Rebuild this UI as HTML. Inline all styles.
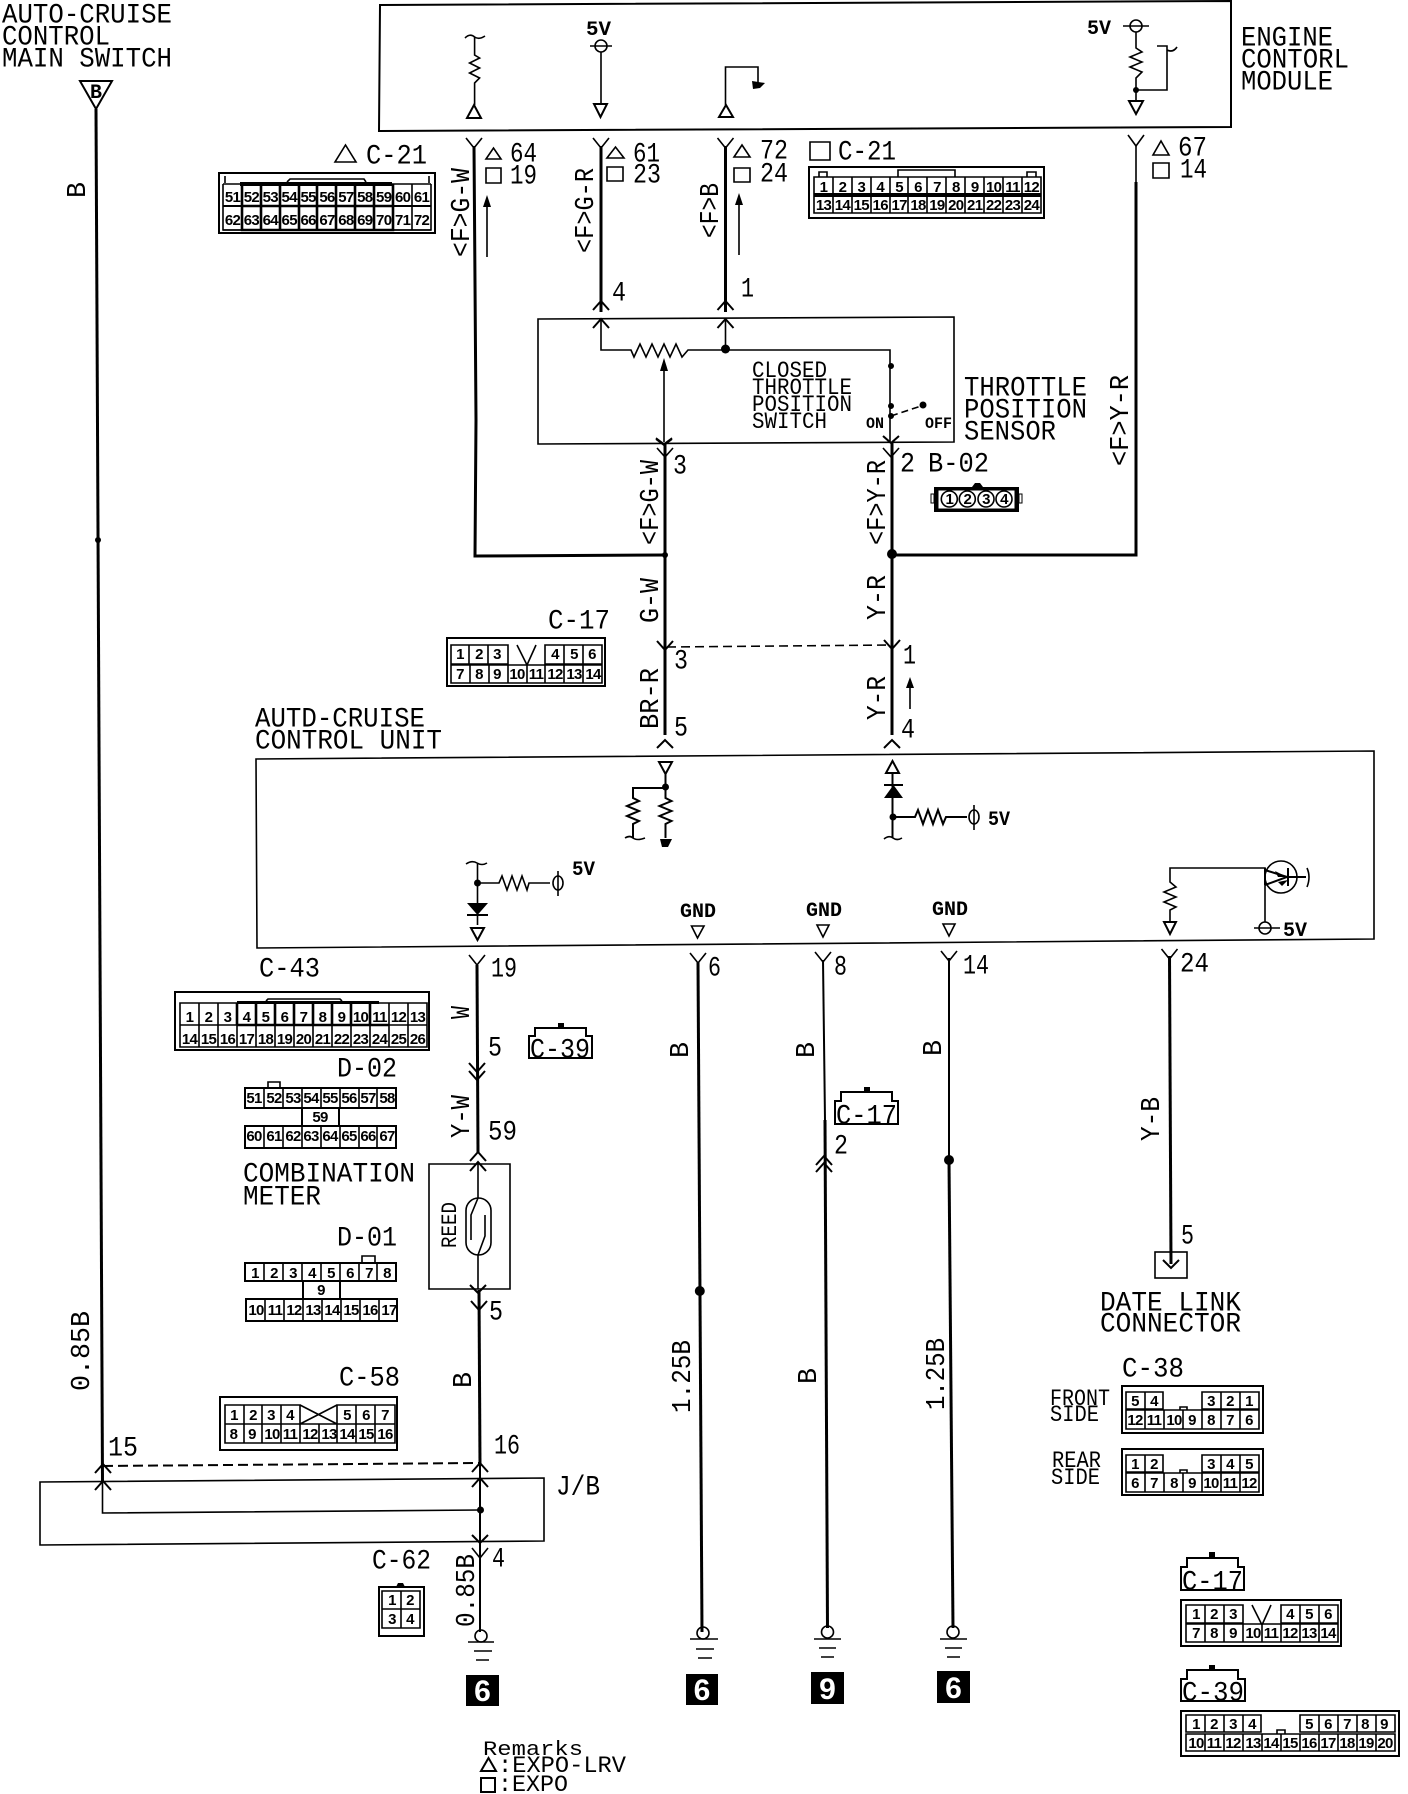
<!DOCTYPE html>
<html><head><meta charset="utf-8"><title>Auto-cruise wiring diagram</title>
<style>
html,body{margin:0;padding:0;background:#fff}
svg{display:block}
.t{font-family:"Liberation Mono",monospace;font-size:28px;fill:#000;transform:translateY(-1.5px)}
.s{font-family:"Liberation Mono",monospace;font-size:20px;fill:#000;font-weight:bold}
.r{font-family:"Liberation Mono",monospace;font-size:27px;fill:#000}
.n text{font-family:"Liberation Sans",sans-serif;font-size:15px;font-weight:bold;fill:#000;text-anchor:middle;letter-spacing:-.7px}
.b{font-family:"Liberation Sans",sans-serif;font-size:30px;font-weight:bold;fill:#fff;text-anchor:middle}
.l{fill:none;stroke:#000;stroke-width:1.6}
.m{fill:none;stroke:#000;stroke-width:2}
.w{fill:none;stroke:#000;stroke-width:3}
.h{fill:none;stroke:#000;stroke-width:2.6}
.tr{fill:#fff;stroke:#000;stroke-width:2}
</style></head><body>
<svg width="1408" height="1794" viewBox="0 0 1408 1794" xmlns="http://www.w3.org/2000/svg">
<rect width="1408" height="1794" fill="#fff"/>

<!-- boxes -->
<path class="m" d="M380 5L1231 1V127L379 131Z"/>
<path class="l" d="M538 319L954 317V442L538 444Z"/>
<path class="l" d="M256 759L1374 751V939L257 948Z"/>
<path class="l" d="M429 1164H510V1289H429Z"/>
<path class="l" d="M40 1482L544 1478V1541L40 1545Z"/>

<!-- main wires -->
<path class="w" d="M96 109L102.500 1482"/>
<path class="l" d="M102.500 1482V1513L480 1510"/>
<path class="w" d="M474 146L476 420L475 556L665 555"/>
<path class="w" d="M601 146V312"/>
<path class="w" d="M725.500 146V312"/>
<path class="w" d="M1136 182V555H892"/>
<path class="l" d="M1136 146V182"/>
<path class="w" d="M665 444V735"/>
<path class="w" d="M892 442V735"/>
<path class="w" d="M477 965L478 1153"/>
<path class="w" d="M479 1290L480 1466"/>
<path class="m" d="M480 1466V1632"/>
<path class="w" d="M698 962L702 1632"/>
<path class="m" d="M823 960L825 1120"/>
<path class="w" d="M825 1120L827.500 1628"/>
<path class="m" d="M949 958V1160"/>
<path class="w" d="M949 1160L953 1628"/>
<path class="w" d="M1169.500 956L1171 1264"/>
<path class="l" stroke-dasharray="9 5" d="M667 647L892 645"/>
<path class="m" stroke-dasharray="10 5" d="M103 1466L480 1463"/>

<!-- Y and chevrons -->
<path class="l" d="M466 138L474 148L482 138M593 138L601 148L609 138M717.500 138L725.500 148L733.500 138M1128 135L1136 146L1144 135M883 448L891 457L899 448M657 448L665 457L673 448M469 955L477 965L485 955M690 953L698 963L706 953M815 952L823 962L831 952M941 951L949 961L957 951M1161.500 949L1169.500 959L1177.500 949M472 1548L480 1558L488 1548"/>
<path class="m" d="M593 310L601 301L609 310M593 328L601 319L609 328M717.500 310L725.500 301L733.500 310M717.500 328L725.500 319L733.500 328M656 439L664 445L672 439M883 436L891 443L899 436M657 641L665 650L673 641M884 640L892 649L900 640M657 748L665 740L673 748M884 748L892 740L900 748M469 1063L477 1072L485 1063M469 1071L477 1080L485 1071M470 1161L478 1152L486 1161M470 1171L478 1162L486 1171M470 1285L478 1293L486 1285M471 1301L479 1310L487 1301M95 1473L103 1464L111 1473M95 1490L103 1481L111 1490M472 1472L480 1463L488 1472M472 1487L480 1478L488 1487M472 1535L480 1543L488 1535M816 1165L824 1156L832 1165M816 1172L824 1163L832 1172M1163 1260L1171 1268L1179 1260"/>

<!-- top triangle -->
<path class="m" d="M80 81H112L96 109Z"/>
<text class="s" x="90" y="98" textLength="12" lengthAdjust="spacingAndGlyphs">B</text>

<!-- ECM internals -->
<path class="l" d="M465 38Q470 33 474.600 37Q479 40 485 36M474.600 37V55l5 3-10 5 10 5-10 5 10 5-5 5V105"/>
<path class="tr" d="M467 118H481L474 105Z"/>
<circle class="l" cx="601" cy="46" r="6"/><path class="l" d="M590 46H612M601 52V104"/>
<path class="tr" d="M594 104H607L600.500 117Z"/>
<text class="s" x="586" y="35" textLength="25" lengthAdjust="spacingAndGlyphs">5V</text>
<path class="l" d="M725.500 105V67H758V84"/>
<path fill="#000" d="M752 81L765 83L760 88L753 89Z"/>
<path class="tr" d="M719 117H733L726 105Z"/>
<circle class="l" cx="1136" cy="26" r="6"/><path class="l" d="M1123 26H1149M1136 32V48l6 4-12 5 12 5-12 5 12 5-6 6V101M1136 90H1167V46H1157M1167 50Q1173 53 1177 47"/>
<circle cx="1136" cy="90" r="3"/>
<path class="tr" d="M1129 101H1143L1136 114Z"/>
<text class="s" x="1087" y="34" textLength="24" lengthAdjust="spacingAndGlyphs">5V</text>

<!-- Titles -->
<text class="t" x="2" y="24" textLength="170" lengthAdjust="spacingAndGlyphs">AUTO-CRUISE</text>
<text class="t" x="2" y="46" textLength="108" lengthAdjust="spacingAndGlyphs">CONTROL</text>
<text class="t" x="2" y="68" textLength="170" lengthAdjust="spacingAndGlyphs">MAIN SWITCH</text>
<text class="t" x="1241" y="47" textLength="92" lengthAdjust="spacingAndGlyphs">ENGINE</text>
<text class="t" x="1241" y="69" textLength="108" lengthAdjust="spacingAndGlyphs">CONTORL</text>
<text class="t" x="1241" y="91" textLength="92" lengthAdjust="spacingAndGlyphs">MODULE</text>
<text class="t" x="964" y="397" textLength="123" lengthAdjust="spacingAndGlyphs">THROTTLE</text>
<text class="t" x="964" y="419" textLength="123" lengthAdjust="spacingAndGlyphs">POSITION</text>
<text class="t" x="964" y="441" textLength="92" lengthAdjust="spacingAndGlyphs">SENSOR</text>
<text class="s" style="font-size:23px;font-weight:normal" x="752" y="377" textLength="75" lengthAdjust="spacingAndGlyphs">CLOSED</text>
<text class="s" style="font-size:23px;font-weight:normal" x="752" y="394" textLength="100" lengthAdjust="spacingAndGlyphs">THROTTLE</text>
<text class="s" style="font-size:23px;font-weight:normal" x="752" y="411" textLength="100" lengthAdjust="spacingAndGlyphs">POSITION</text>
<text class="s" style="font-size:23px;font-weight:normal" x="752" y="428" textLength="75" lengthAdjust="spacingAndGlyphs">SWITCH</text>
<text class="s" style="font-size:16px" x="866" y="428" textLength="18" lengthAdjust="spacingAndGlyphs">ON</text>
<text class="s" style="font-size:16px" x="925" y="428" textLength="27" lengthAdjust="spacingAndGlyphs">OFF</text>
<text class="t" x="255" y="728" textLength="170" lengthAdjust="spacingAndGlyphs">AUTD-CRUISE</text>
<text class="t" x="255" y="750" textLength="187" lengthAdjust="spacingAndGlyphs">CONTROL UNIT</text>
<text class="t" x="243" y="1183" textLength="172" lengthAdjust="spacingAndGlyphs">COMBINATION</text>
<text class="t" x="243" y="1206" textLength="78" lengthAdjust="spacingAndGlyphs">METER</text>
<text class="t" x="1100" y="1312" textLength="141" lengthAdjust="spacingAndGlyphs">DATE LINK</text>
<text class="t" x="1100" y="1333" textLength="141" lengthAdjust="spacingAndGlyphs">CONNECTOR</text>
<text class="s" style="font-size:23px;font-weight:normal" x="1050" y="1405" textLength="60" lengthAdjust="spacingAndGlyphs">FRONT</text>
<text class="s" style="font-size:23px;font-weight:normal" x="1050" y="1421" textLength="49" lengthAdjust="spacingAndGlyphs">SIDE</text>
<text class="s" style="font-size:23px;font-weight:normal" x="1052" y="1467" textLength="49" lengthAdjust="spacingAndGlyphs">REAR</text>
<text class="s" style="font-size:23px;font-weight:normal" x="1051" y="1484" textLength="49" lengthAdjust="spacingAndGlyphs">SIDE</text>

<!-- rotated labels -->
<text class="r" transform="translate(85,198) rotate(-90)" textLength="16" lengthAdjust="spacingAndGlyphs">B</text>
<text class="r" transform="translate(89,1391) rotate(-90)" textLength="80" lengthAdjust="spacingAndGlyphs">0.85B</text>
<text class="r" transform="translate(469,257) rotate(-90)" textLength="89" lengthAdjust="spacingAndGlyphs">&lt;F&gt;G-W</text>
<text class="r" transform="translate(593,253) rotate(-90)" textLength="85" lengthAdjust="spacingAndGlyphs">&lt;F&gt;G-R</text>
<text class="r" transform="translate(718,238) rotate(-90)" textLength="55" lengthAdjust="spacingAndGlyphs">&lt;F&gt;B</text>
<text class="r" transform="translate(1128,466) rotate(-90)" textLength="91" lengthAdjust="spacingAndGlyphs">&lt;F&gt;Y-R</text>
<text class="r" transform="translate(658,545) rotate(-90)" textLength="85" lengthAdjust="spacingAndGlyphs">&lt;F&gt;G-W</text>
<text class="r" transform="translate(658,623) rotate(-90)" textLength="45" lengthAdjust="spacingAndGlyphs">G-W</text>
<text class="r" transform="translate(658,729) rotate(-90)" textLength="61" lengthAdjust="spacingAndGlyphs">BR-R</text>
<text class="r" transform="translate(885,545) rotate(-90)" textLength="85" lengthAdjust="spacingAndGlyphs">&lt;F&gt;Y-R</text>
<text class="r" transform="translate(885,620) rotate(-90)" textLength="45" lengthAdjust="spacingAndGlyphs">Y-R</text>
<text class="r" transform="translate(885,720) rotate(-90)" textLength="44" lengthAdjust="spacingAndGlyphs">Y-R</text>
<text class="r" transform="translate(469,1019) rotate(-90)" textLength="13" lengthAdjust="spacingAndGlyphs">W</text>
<text class="r" transform="translate(469,1138) rotate(-90)" textLength="43" lengthAdjust="spacingAndGlyphs">Y-W</text>
<text class="s" style="font-size:22px;font-weight:normal" transform="translate(456,1248) rotate(-90)" textLength="46" lengthAdjust="spacingAndGlyphs">REED</text>
<text class="r" transform="translate(471,1388) rotate(-90)" textLength="16" lengthAdjust="spacingAndGlyphs">B</text>
<text class="r" transform="translate(688,1058) rotate(-90)" textLength="16" lengthAdjust="spacingAndGlyphs">B</text>
<text class="r" transform="translate(690,1413) rotate(-90)" textLength="73" lengthAdjust="spacingAndGlyphs">1.25B</text>
<text class="r" transform="translate(814,1058) rotate(-90)" textLength="16" lengthAdjust="spacingAndGlyphs">B</text>
<text class="r" transform="translate(816,1384) rotate(-90)" textLength="16" lengthAdjust="spacingAndGlyphs">B</text>
<text class="r" transform="translate(941,1056) rotate(-90)" textLength="16" lengthAdjust="spacingAndGlyphs">B</text>
<text class="r" transform="translate(944,1410) rotate(-90)" textLength="72" lengthAdjust="spacingAndGlyphs">1.25B</text>
<text class="r" transform="translate(1159,1141) rotate(-90)" textLength="44" lengthAdjust="spacingAndGlyphs">Y-B</text>
<text class="r" transform="translate(474,1627) rotate(-90)" textLength="73" lengthAdjust="spacingAndGlyphs">0.85B</text>

<!-- pin numbers -->
<path class="l" d="M486 159H501L493.500 148ZM607 158H624L615.500 147ZM734 157H750L742 145ZM1153 155H1169L1161 141ZM335 162H356L345.500 145ZM486 168H501V183H486ZM607 167H623V181H607ZM734 168H750V182H734ZM810 142H830V160H810ZM1153 163H1169V178H1153Z"/>
<text class="t" x="510" y="163" textLength="27" lengthAdjust="spacingAndGlyphs">64</text>
<text class="t" x="510" y="185" textLength="27" lengthAdjust="spacingAndGlyphs">19</text>
<text class="t" x="633" y="163" textLength="27" lengthAdjust="spacingAndGlyphs">61</text>
<text class="t" x="633" y="184" textLength="28" lengthAdjust="spacingAndGlyphs">23</text>
<text class="t" x="760" y="160" textLength="28" lengthAdjust="spacingAndGlyphs">72</text>
<text class="t" x="760" y="183" textLength="28" lengthAdjust="spacingAndGlyphs">24</text>
<text class="t" x="1178" y="157" textLength="29" lengthAdjust="spacingAndGlyphs">67</text>
<text class="t" x="1180" y="179" textLength="27" lengthAdjust="spacingAndGlyphs">14</text>
<text class="t" x="366" y="165" textLength="61" lengthAdjust="spacingAndGlyphs">C-21</text>
<text class="t" x="838" y="161" textLength="58" lengthAdjust="spacingAndGlyphs">C-21</text>
<text class="t" x="612" y="302" textLength="14" lengthAdjust="spacingAndGlyphs">4</text>
<text class="t" x="741" y="298" textLength="13" lengthAdjust="spacingAndGlyphs">1</text>
<text class="t" x="673" y="475" textLength="14" lengthAdjust="spacingAndGlyphs">3</text>
<text class="t" x="900" y="473" textLength="15" lengthAdjust="spacingAndGlyphs">2</text>
<text class="t" x="928" y="473" textLength="61" lengthAdjust="spacingAndGlyphs">B-02</text>
<text class="t" x="548" y="630" textLength="62" lengthAdjust="spacingAndGlyphs">C-17</text>
<text class="t" x="674" y="670" textLength="14" lengthAdjust="spacingAndGlyphs">3</text>
<text class="t" x="903" y="665" textLength="13" lengthAdjust="spacingAndGlyphs">1</text>
<text class="t" x="674" y="737" textLength="14" lengthAdjust="spacingAndGlyphs">5</text>
<text class="t" x="901" y="739" textLength="14" lengthAdjust="spacingAndGlyphs">4</text>
<text class="t" x="491" y="978" textLength="26" lengthAdjust="spacingAndGlyphs">19</text>
<text class="t" x="488" y="1057" textLength="14" lengthAdjust="spacingAndGlyphs">5</text>
<text class="t" x="488" y="1141" textLength="29" lengthAdjust="spacingAndGlyphs">59</text>
<text class="t" x="489" y="1321" textLength="14" lengthAdjust="spacingAndGlyphs">5</text>
<text class="t" x="708" y="977" textLength="13" lengthAdjust="spacingAndGlyphs">6</text>
<text class="t" x="834" y="976" textLength="13" lengthAdjust="spacingAndGlyphs">8</text>
<text class="t" x="963" y="975" textLength="26" lengthAdjust="spacingAndGlyphs">14</text>
<text class="t" x="1180" y="973" textLength="29" lengthAdjust="spacingAndGlyphs">24</text>
<text class="t" x="834" y="1155" textLength="14" lengthAdjust="spacingAndGlyphs">2</text>
<text class="t" x="1181" y="1245" textLength="13" lengthAdjust="spacingAndGlyphs">5</text>
<text class="t" x="108" y="1457" textLength="30" lengthAdjust="spacingAndGlyphs">15</text>
<text class="t" x="494" y="1455" textLength="26" lengthAdjust="spacingAndGlyphs">16</text>
<text class="t" x="556" y="1496" textLength="44" lengthAdjust="spacingAndGlyphs">J/B</text>
<text class="t" x="492" y="1568" textLength="13" lengthAdjust="spacingAndGlyphs">4</text>
<text class="t" x="372" y="1570" textLength="59" lengthAdjust="spacingAndGlyphs">C-62</text>
<text class="t" x="259" y="978" textLength="61" lengthAdjust="spacingAndGlyphs">C-43</text>
<text class="t" x="337" y="1078" textLength="60" lengthAdjust="spacingAndGlyphs">D-02</text>
<text class="t" x="337" y="1247" textLength="60" lengthAdjust="spacingAndGlyphs">D-01</text>
<text class="t" x="339" y="1387" textLength="61" lengthAdjust="spacingAndGlyphs">C-58</text>
<text class="t" x="1122" y="1378" textLength="62" lengthAdjust="spacingAndGlyphs">C-38</text>

<!-- small arrows -->
<path class="l" d="M487 257V205M739 255V205M910 709V686"/>
<path fill="#000" d="M487 195L491 207H483ZM739 193L743 205H735ZM910 677L914 688H906Z"/>

<!-- Throttle sensor internals -->
<path class="l" d="M601 319V350H631l3 7 6-13 6 13 6-13 6 13 6-13 6 13 6-13 6 13 6-7H725.500H890V442M725.500 319V349"/>
<circle cx="725.500" cy="349" r="4.500"/>
<path class="l" d="M664 368V442"/><path fill="#000" d="M664 358L668 371H660Z"/>
<path class="l" d="M656 438L664 444L672 438"/>
<circle cx="891" cy="366" r="3"/><circle cx="891" cy="406" r="3"/><circle cx="891" cy="416" r="3"/><circle cx="923" cy="405" r="3.500"/>
<path class="l" stroke-dasharray="7 4" d="M891 416L921 406"/>

<!-- ACCU internals -->
<path class="tr" d="M659 762H672L665.500 774Z"/>
<path class="m" d="M665.500 774V798l6 3-12 5 12 5-12 5 12 5-6 3V838"/>
<circle cx="665.500" cy="787" r="3.500"/>
<path class="m" d="M665 788H633V798l6 3-12 5 12 5-12 5 12 5-6 3V838"/>
<path class="l" d="M625 838Q630 835 633 838Q637 841 645 838"/>
<path fill="#000" d="M660 839H672L668 847H662Z"/>
<path class="tr" d="M886 773H899L892.500 761Z"/>
<path class="m" d="M892.500 773V838M893 817H915l3-7 5 14 5-14 5 14 5-14 5 14 3-7H967"/>
<path fill="#000" d="M884 798H903L893.500 785Z"/><path class="m" d="M884 785H903"/>
<circle cx="893" cy="817" r="3.500"/>
<ellipse class="l" cx="974" cy="817" rx="5" ry="7"/><path class="l" d="M974 805V830"/>
<text class="s" x="988" y="825" textLength="22" lengthAdjust="spacingAndGlyphs">5V</text>
<path class="l" d="M884 839Q889 835 893 838Q897 841 902 838"/>
<path class="l" d="M466 864Q472 860 477 863Q482 866 487 863M477.500 863V925M477 883H499l3-7 5 14 5-14 5 14 5-14 5 14 2-7H550"/>
<circle cx="477.500" cy="883" r="3.500"/>
<ellipse class="l" cx="558" cy="883" rx="5" ry="7"/><path class="l" d="M558 871V896"/>
<text class="s" x="572" y="875" textLength="23" lengthAdjust="spacingAndGlyphs">5V</text>
<path fill="#000" d="M467 903H488L477.500 915Z"/><path class="m" d="M467 915H488"/>
<path class="tr" d="M471 928H484L477.500 940Z"/>
<text class="s" x="680" y="917" textLength="36" lengthAdjust="spacingAndGlyphs">GND</text>
<text class="s" x="806" y="916" textLength="36" lengthAdjust="spacingAndGlyphs">GND</text>
<text class="s" x="932" y="915" textLength="36" lengthAdjust="spacingAndGlyphs">GND</text>
<path class="l" d="M691.500 926H704L697.500 938ZM817 925H829L823 937ZM943 924H955L949 936Z"/>
<path class="l" d="M1170 922V910l6-3-12-5 12-5-12-5 12-5-6-5V868H1265V885M1265 885V922"/>
<path class="tr" d="M1164 922H1176L1170 934Z"/>
<circle class="l" cx="1281" cy="877" r="16"/>
<path class="m" d="M1265 868V885M1265 870L1287 877L1265 885M1288 868V886M1288 877H1306"/>
<path fill="#000" d="M1275 871L1287 877L1278 877ZM1278 882L1288 880L1282 886Z"/>
<path class="l" d="M1307 868Q1311 877 1307 887"/>
<circle class="l" cx="1265" cy="928" r="6"/><path class="l" d="M1254 928H1280"/>
<text class="s" x="1283" y="936" textLength="24" lengthAdjust="spacingAndGlyphs">5V</text>

<!-- dots -->
<circle cx="98" cy="540" r="3"/><circle cx="665" cy="555" r="3"/><circle cx="892" cy="554" r="5"/>
<circle cx="699.800" cy="1291" r="5"/><circle cx="949" cy="1160" r="5"/><circle cx="480.500" cy="1510" r="3.500"/>

<!-- reed -->
<rect class="l" x="466" y="1198" width="25" height="57" rx="12.500"/>
<path class="l" d="M478 1164V1198L471 1215V1240M478 1255V1289M485 1215V1236L478 1255"/>

<!-- data link -->
<rect class="l" x="1155" y="1252" width="32" height="26"/>

<!-- grounds -->
<path class="l" d="M468 1642H494M474 1651H492M476 1660H489M690 1639H718M696 1649H714M698 1658H712M814 1639H841M819 1648H836M821 1657H834M940 1639H967M945 1648H962M947 1657H960"/>
<ellipse class="l" cx="481" cy="1636" rx="6" ry="6"/><ellipse class="l" cx="703" cy="1633" rx="6" ry="6"/><ellipse class="l" cx="827.500" cy="1632" rx="6" ry="6"/><ellipse class="l" cx="953" cy="1632" rx="6" ry="6"/>
<rect x="466" y="1675" width="33" height="31"/><text class="b" x="482.500" y="1701">6</text>
<rect x="686" y="1674" width="32" height="31"/><text class="b" x="702" y="1700">6</text>
<rect x="811" y="1672" width="33" height="32"/><text class="b" x="827.500" y="1699">9</text>
<rect x="937" y="1671" width="33" height="32"/><text class="b" x="953.500" y="1698">6</text>

<!-- Remarks -->
<text class="s" style="font-size:20px;font-weight:normal" x="483" y="1755" textLength="100" lengthAdjust="spacingAndGlyphs">Remarks</text>
<path class="m" d="M481 1771H496L488.500 1758Z"/><rect class="m" x="481" y="1778" width="14" height="14"/>
<text class="s" style="font-size:23px;font-weight:normal" x="498" y="1772" textLength="128" lengthAdjust="spacingAndGlyphs">:EXPO-LRV</text>
<text class="s" style="font-size:23px;font-weight:normal" x="498" y="1791" textLength="70" lengthAdjust="spacingAndGlyphs">:EXPO</text>

<!-- connector C-21 left -->
<rect class="m" x="219" y="173" width="216" height="60"/>
<path class="l" d="M223 184V230H431V184M225 176V183M429 176V183M287 182L290 179H364L366 182"/>
<rect x="240" y="182" width="152" height="4"/>
<path class="m" d="M223 206H431"/>
<path class="l" d="M223 184H431M223 230H431M242 184V230M261 184V230M280 184V230M299 184V230M317 184V230M336 184V230M355 184V230M374 184V230M393 184V230M412 184V230"/>
<path class="h" d="M242 184V230H393V184M261 184V230M280 184V230M299 184V230M317 184V230M336 184V230M355 184V230M374 184V230M242 206H393"/>
<g class="n">
<text x="232.500" y="202">51</text><text x="251.400" y="202">52</text><text x="270.300" y="202">53</text><text x="289.200" y="202">54</text><text x="308.100" y="202">55</text><text x="327" y="202">56</text><text x="345.900" y="202">57</text><text x="364.800" y="202">58</text><text x="383.700" y="202">59</text><text x="402.600" y="202">60</text><text x="421.500" y="202">61</text>
<text x="232.500" y="225">62</text><text x="251.400" y="225">63</text><text x="270.300" y="225">64</text><text x="289.200" y="225">65</text><text x="308.100" y="225">66</text><text x="327" y="225">67</text><text x="345.900" y="225">68</text><text x="364.800" y="225">69</text><text x="383.700" y="225">70</text><text x="402.600" y="225">71</text><text x="421.500" y="225">72</text>
</g>

<!-- connector C-21 right -->
<rect class="m" x="809" y="167" width="235" height="51"/>
<path class="l" d="M898 177V170H955V177M819 177V172H827V177M1027 177V172H1036V177"/>
<rect x="814" y="193" width="227" height="4"/>
<path class="l" d="M814 177H1041V213H814ZM833 177V213M852 177V213M871 177V213M890 177V213M908 177V213M927 177V213M946 177V213M965 177V213M984 177V213M1003 177V213M1022 177V213"/>
<g class="n">
<text x="823.500" y="192">1</text><text x="842.400" y="192">2</text><text x="861.300" y="192">3</text><text x="880.200" y="192">4</text><text x="899.100" y="192">5</text><text x="918" y="192">6</text><text x="936.900" y="192">7</text><text x="955.800" y="192">8</text><text x="974.700" y="192">9</text><text x="993.600" y="192">10</text><text x="1012.500" y="192">11</text><text x="1031.400" y="192">12</text>
<text x="823.500" y="210">13</text><text x="842.400" y="210">14</text><text x="861.300" y="210">15</text><text x="880.200" y="210">16</text><text x="899.100" y="210">17</text><text x="918" y="210">18</text><text x="936.900" y="210">19</text><text x="955.800" y="210">20</text><text x="974.700" y="210">21</text><text x="993.600" y="210">22</text><text x="1012.500" y="210">23</text><text x="1031.400" y="210">24</text>
</g>

<!-- B-02 -->
<rect x="934" y="487" width="85" height="25" fill="#000"/>
<rect x="938" y="490" width="77" height="19" fill="#fff" stroke="#000"/>
<rect x="931" y="494" width="3" height="9" fill="none" stroke="#000"/><rect x="1019" y="494" width="3" height="9" fill="none" stroke="#000"/>
<path fill="#000" d="M972 487L975 483H980L983 487Z"/>
<circle class="l" cx="949.300" cy="499" r="8"/><circle class="l" cx="967.300" cy="499" r="8"/><circle class="l" cx="986" cy="499" r="8"/><circle class="l" cx="1004" cy="499" r="8"/>
<g class="n"><text x="949.300" y="504">1</text><text x="967.300" y="504">2</text><text x="986" y="504">3</text><text x="1004" y="504">4</text></g>

<!-- C-17 mid -->
<rect class="m" x="447" y="638" width="158" height="48"/>
<path class="l" d="M451 645H508V664H451ZM469 645V664M488 645V664M545 645H602V664H545ZM564 645V664M583 645V664M451 665H602V683H451ZM470 665V683M489 665V683M508 665V683M527 665V683M545 665V683M564 665V683M583 665V683M517 645L527 665L536 645"/>
<g class="n">
<text x="460" y="659">1</text><text x="479" y="659">2</text><text x="497" y="659">3</text><text x="555" y="659">4</text><text x="574" y="659">5</text><text x="592" y="659">6</text>
<text x="460" y="679">7</text><text x="479" y="679">8</text><text x="497" y="679">9</text><text x="517" y="679">10</text><text x="536" y="679">11</text><text x="555" y="679">12</text><text x="574" y="679">13</text><text x="593" y="679">14</text>
</g>

<!-- C-43 -->
<path class="m" d="M175 992H429V1050H175Z"/>
<path class="l" d="M266 1001L268 999H340L342 1001"/>
<rect x="237" y="1001" width="142" height="3"/>
<path class="l" d="M180 1003H427V1047H180ZM180 1025H427M199 1003V1047M218 1003V1047M237 1003V1047M256 1003V1047M275 1003V1047M294 1003V1047M313 1003V1047M332 1003V1047M351 1003V1047M370 1003V1047M389 1003V1047M408 1003V1047"/>
<path class="h" d="M237 1003V1025M256 1003V1025M275 1003V1025M294 1003V1025M313 1003V1025M332 1003V1025M351 1003V1025M370 1003V1025M237 1025H389"/>
<g class="n">
<text x="189.500" y="1022">1</text><text x="208.500" y="1022">2</text><text x="227.500" y="1022">3</text><text x="246.500" y="1022">4</text><text x="265.500" y="1022">5</text><text x="284.500" y="1022">6</text><text x="303.500" y="1022">7</text><text x="322.500" y="1022">8</text><text x="341.500" y="1022">9</text><text x="360.500" y="1022">10</text><text x="379.500" y="1022">11</text><text x="398.500" y="1022">12</text><text x="417.500" y="1022">13</text>
<text x="189.500" y="1044">14</text><text x="208.500" y="1044">15</text><text x="227.500" y="1044">16</text><text x="246.500" y="1044">17</text><text x="265.500" y="1044">18</text><text x="284.500" y="1044">19</text><text x="303.500" y="1044">20</text><text x="322.500" y="1044">21</text><text x="341.500" y="1044">22</text><text x="360.500" y="1044">23</text><text x="379.500" y="1044">24</text><text x="398.500" y="1044">25</text><text x="417.500" y="1044">26</text>
</g>

<!-- D-02 -->
<path class="m" d="M245 1088H396V1108H245ZM245 1126H396V1148H245ZM302 1108V1126M339 1108V1126"/>
<path class="l" d="M268 1088V1082H280V1088M264 1088V1108M283 1088V1108M302 1088V1108M321 1088V1108M340 1088V1108M359 1088V1108M377 1088V1108M264 1126V1148M283 1126V1148M302 1126V1148M321 1126V1148M340 1126V1148M359 1126V1148M377 1126V1148"/>
<g class="n">
<text x="254" y="1103">51</text><text x="274" y="1103">52</text><text x="293" y="1103">53</text><text x="311" y="1103">54</text><text x="330" y="1103">55</text><text x="349" y="1103">56</text><text x="368" y="1103">57</text><text x="387" y="1103">58</text>
<text x="320" y="1122">59</text>
<text x="254" y="1141">60</text><text x="274" y="1141">61</text><text x="293" y="1141">62</text><text x="311" y="1141">63</text><text x="330" y="1141">64</text><text x="349" y="1141">65</text><text x="368" y="1141">66</text><text x="387" y="1141">67</text>
</g>

<!-- D-01 -->
<path class="m" d="M245 1263H396V1281H245ZM246 1299H397V1321H246ZM303 1281V1299M340 1281V1299"/>
<path class="l" d="M362 1263V1256H375V1263M264 1263V1281M283 1263V1281M302 1263V1281M321 1263V1281M340 1263V1281M359 1263V1281M377 1263V1281M265 1299V1321M284 1299V1321M303 1299V1321M322 1299V1321M341 1299V1321M360 1299V1321M379 1299V1321"/>
<g class="n">
<text x="255" y="1278">1</text><text x="274" y="1278">2</text><text x="293" y="1278">3</text><text x="312" y="1278">4</text><text x="331" y="1278">5</text><text x="350" y="1278">6</text><text x="369" y="1278">7</text><text x="387" y="1278">8</text>
<text x="321" y="1295">9</text>
<text x="256" y="1315">10</text><text x="275" y="1315">11</text><text x="294" y="1315">12</text><text x="313" y="1315">13</text><text x="332" y="1315">14</text><text x="351" y="1315">15</text><text x="370" y="1315">16</text><text x="389" y="1315">17</text>
</g>

<!-- C-58 -->
<rect class="m" x="220" y="1397" width="177" height="53"/>
<path class="l" d="M225 1405H300V1443H225ZM337 1405H395V1443H337ZM300 1424H337V1443H300ZM225 1424H300M337 1424H395M244 1405V1443M262 1405V1443M281 1405V1443M356 1405V1443M375 1405V1443M319 1424V1443M300 1405L337 1424M337 1405L300 1424"/>
<g class="n">
<text x="234" y="1420">1</text><text x="253" y="1420">2</text><text x="271" y="1420">3</text><text x="290" y="1420">4</text><text x="347" y="1420">5</text><text x="366" y="1420">6</text><text x="385" y="1420">7</text>
<text x="233.500" y="1439">8</text><text x="252" y="1439">9</text><text x="272" y="1439">10</text><text x="290" y="1439">11</text><text x="310" y="1439">12</text><text x="329" y="1439">13</text><text x="347" y="1439">14</text><text x="366" y="1439">15</text><text x="385" y="1439">16</text>
</g>

<!-- C-62 -->
<rect class="m" x="379" y="1587" width="45" height="49"/>
<path class="l" d="M382 1591H420V1628H382ZM382 1609H420M401 1591V1628"/>
<path fill="#000" d="M396 1587L398 1583H403L405 1587Z"/>
<g class="n"><text x="392" y="1605">1</text><text x="410" y="1605">2</text><text x="392" y="1624">3</text><text x="410" y="1624">4</text></g>

<!-- C-38 -->
<rect class="m" x="1122" y="1386" width="141" height="47"/>
<path class="l" d="M1126 1392H1163V1409H1126ZM1145 1392V1409M1202 1392H1259V1409H1202ZM1221 1392V1409M1240 1392V1409M1126 1410H1259V1429H1126ZM1145 1410V1429M1164 1410V1429M1183 1410V1429M1202 1410V1429M1221 1410V1429M1240 1410V1429M1180 1410V1407H1187V1410"/>
<g class="n">
<text x="1135" y="1406">5</text><text x="1154" y="1406">4</text><text x="1211" y="1406">3</text><text x="1230" y="1406">2</text><text x="1249" y="1406">1</text>
<text x="1135" y="1425">12</text><text x="1154" y="1425">11</text><text x="1174" y="1425">10</text><text x="1192" y="1425">9</text><text x="1211" y="1425">8</text><text x="1230" y="1425">7</text><text x="1249" y="1425">6</text>
</g>
<rect class="m" x="1122" y="1449" width="141" height="46"/>
<path class="l" d="M1126 1455H1163V1472H1126ZM1145 1455V1472M1202 1455H1259V1472H1202ZM1221 1455V1472M1240 1455V1472M1126 1473H1259V1492H1126ZM1145 1473V1492M1164 1473V1492M1183 1473V1492M1202 1473V1492M1221 1473V1492M1240 1473V1492M1180 1473V1470H1187V1473"/>
<g class="n">
<text x="1135" y="1469">1</text><text x="1154" y="1469">2</text><text x="1211" y="1469">3</text><text x="1230" y="1469">4</text><text x="1249" y="1469">5</text>
<text x="1135" y="1488">6</text><text x="1154" y="1488">7</text><text x="1174" y="1488">8</text><text x="1192" y="1488">9</text><text x="1211" y="1488">10</text><text x="1230" y="1488">11</text><text x="1249" y="1488">12</text>
</g>

<!-- tags -->
<path class="m" d="M529 1058V1036H535V1028H586V1036H592V1058Z"/><path fill="#000" d="M558 1027V1023H564V1027Z"/>
<text class="t" x="530" y="1059" textLength="60" lengthAdjust="spacingAndGlyphs">C-39</text>
<path class="m" d="M835 1124V1101H841V1092H892V1101H898V1124Z"/><path fill="#000" d="M864 1092V1087H870V1092Z"/>
<text class="t" x="836" y="1125" textLength="61" lengthAdjust="spacingAndGlyphs">C-17</text>
<path class="m" d="M1181 1590V1567H1187V1558H1238V1567H1244V1590Z"/><path fill="#000" d="M1209 1558V1552H1215V1558Z"/>
<text class="t" x="1182" y="1591" textLength="61" lengthAdjust="spacingAndGlyphs">C-17</text>
<path class="m" d="M1181 1701V1679H1187V1670H1238V1679H1245V1701Z"/><path fill="#000" d="M1209 1670V1665H1215V1670Z"/>
<text class="t" x="1182" y="1702" textLength="62" lengthAdjust="spacingAndGlyphs">C-39</text>

<!-- C-17 bottom -->
<rect class="m" x="1181" y="1600" width="160" height="46"/>
<path class="l" d="M1186 1605H1243V1623H1186ZM1205 1605V1623M1224 1605V1623M1281 1605H1338V1623H1281ZM1300 1605V1623M1319 1605V1623M1186 1624H1338V1642H1186ZM1205 1624V1642M1224 1624V1642M1243 1624V1642M1262 1624V1642M1281 1624V1642M1300 1624V1642M1319 1624V1642M1252 1605L1262 1625L1271 1605"/>
<g class="n">
<text x="1196" y="1619">1</text><text x="1214" y="1619">2</text><text x="1233" y="1619">3</text><text x="1290" y="1619">4</text><text x="1309" y="1619">5</text><text x="1328" y="1619">6</text>
<text x="1196" y="1638">7</text><text x="1214" y="1638">8</text><text x="1233" y="1638">9</text><text x="1253" y="1638">10</text><text x="1271" y="1638">11</text><text x="1290" y="1638">12</text><text x="1309" y="1638">13</text><text x="1328" y="1638">14</text>
</g>

<!-- C-39 bottom -->
<rect class="m" x="1181" y="1711" width="218" height="45"/>
<path class="l" d="M1186 1715H1261V1732H1186ZM1205 1715V1732M1224 1715V1732M1243 1715V1732M1300 1715H1395V1732H1300ZM1319 1715V1732M1338 1715V1732M1357 1715V1732M1376 1715V1732M1186 1734H1395V1751H1186ZM1205 1734V1751M1224 1734V1751M1243 1734V1751M1262 1734V1751M1281 1734V1751M1300 1734V1751M1319 1734V1751M1338 1734V1751M1357 1734V1751M1376 1734V1751M1277 1734V1730H1285V1734"/>
<g class="n">
<text x="1196" y="1729">1</text><text x="1214" y="1729">2</text><text x="1233" y="1729">3</text><text x="1252" y="1729">4</text><text x="1309" y="1729">5</text><text x="1328" y="1729">6</text><text x="1347" y="1729">7</text><text x="1365" y="1729">8</text><text x="1384" y="1729">9</text>
<text x="1196" y="1748">10</text><text x="1214" y="1748">11</text><text x="1233" y="1748">12</text><text x="1253" y="1748">13</text><text x="1271" y="1748">14</text><text x="1290" y="1748">15</text><text x="1309" y="1748">16</text><text x="1328" y="1748">17</text><text x="1347" y="1748">18</text><text x="1366" y="1748">19</text><text x="1385" y="1748">20</text>
</g>
</svg>
</body></html>
